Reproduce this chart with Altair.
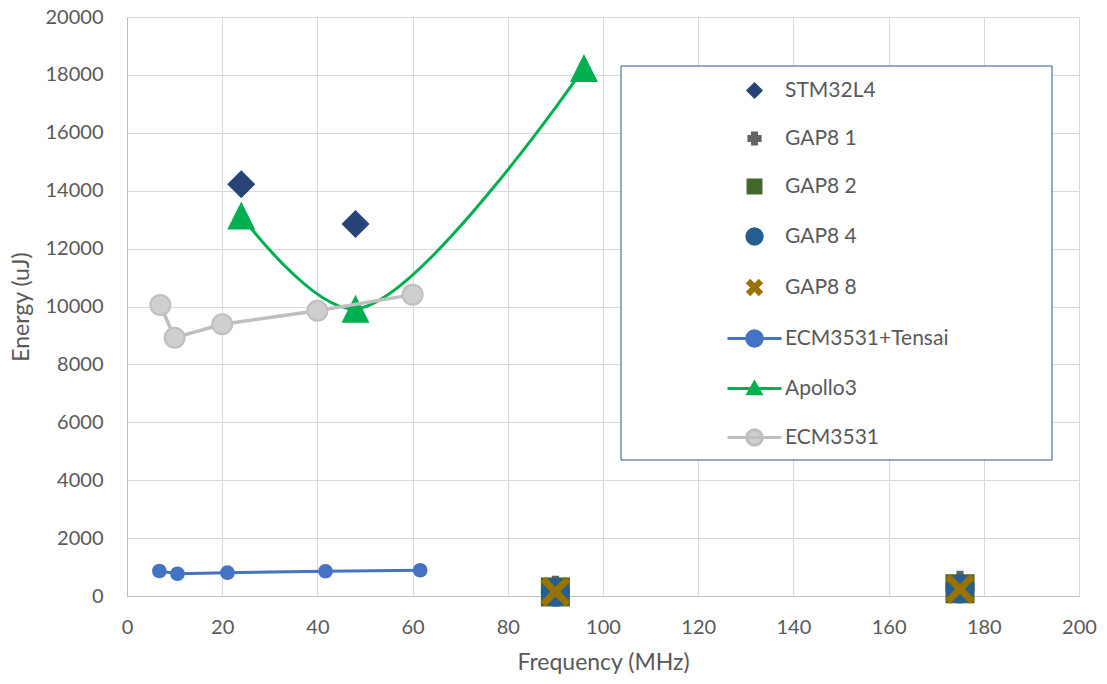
import math
import altair as alt
import pandas as pd

# ---------------- data ----------------
series = ["STM32L4", "GAP8 1", "GAP8 2", "GAP8 4", "GAP8 8",
          "ECM3531+Tensai", "Apollo3", "ECM3531"]

stm_x = [24, 48]
stm_y = [14220, 12850]

gap_x = [90, 175]
gap1_y = [200, 370]
gap2_y = [140, 250]
gap4_y = [130, 240]
gap8_y = [150, 240]

tensai_x = [6.8, 10.6, 21.1, 41.7, 61.6]
tensai_y = [865, 770, 805, 855, 890]

apollo_x = [24, 48, 96]
apollo_y = [13140, 9920, 18240]

ecm_x = [7, 10, 20, 40, 60]
ecm_y = [10050, 8920, 9385, 9855, 10410]

x_ticks = list(range(0, 201, 20))
y_ticks = list(range(0, 20001, 2000))

# ---------------- styles ----------------
FONT = "Lato"
TXT = "#595959"
GRID = "#D9D9D9"
C_STM = "#264478"
C_G1 = "#636363"
C_G2 = "#43682B"
C_G4 = "#255E91"
C_G8 = "#997300"
C_TEN = "#4472C4"
C_APO = "#00B050"
C_ECM_LINE = "#BFBFBF"
C_ECM_FILL = "#D0CECE"


def f(v):
    s = f"{v:.3f}".rstrip("0").rstrip(".")
    return "0" if s in ("-0", "") else s


def poly(pts):
    return "M" + "L".join(f"{f(x)},{f(y)}" for x, y in pts) + "Z"


def plus_pts(a, b):
    return [(-a, -b), (a, -b), (a, -a), (b, -a), (b, a), (a, a), (a, b),
            (-a, b), (-a, a), (-b, a), (-b, -a), (-a, -a)]


def plus_path(a, b):
    return poly(plus_pts(a, b))


def x_path(a, b):
    r = 1 / math.sqrt(2)
    return poly([((x - y) * r, (x + y) * r) for x, y in plus_pts(a, b)])


def circle_path(r, cx=0):
    return (f"M{f(cx - r)},0A{f(r)},{f(r)} 0 1,1 {f(cx + r)},0"
            f"A{f(r)},{f(r)} 0 1,1 {f(cx - r)},0Z")


def diamond_path(r):
    return poly([(0, -r), (r, 0), (0, r), (-r, 0)])


def square_path(h):
    return poly([(-h, -h), (h, -h), (h, h), (-h, h)])


LINE_SEG = "M-3,0L3,0"

TRI_MAIN = "M0,-1L1,1L-1,1Z"
PLUS_MAIN = plus_path(0.25, 1.0)
X_MAIN = x_path(0.233, 1.181)

legend_shapes = [
    diamond_path(0.72),
    plus_path(0.22, 0.62),
    square_path(0.72),
    circle_path(0.85),
    x_path(0.18, 0.85),
    LINE_SEG + circle_path(0.87),
    LINE_SEG + "M0,-0.67L0.72,0.57L-0.72,0.57Z",
    LINE_SEG + circle_path(0.87),
]
legend_fill = [C_STM, C_G1, C_G2, C_G4, C_G8, C_TEN, C_APO, C_ECM_FILL]
legend_stroke = [C_STM, C_G1, C_G2, C_G4, C_G8, C_TEN, C_APO, C_ECM_LINE]

# ---------------- scales ----------------
xs = alt.Scale(domain=[0, 200], nice=False, zero=False)
ys = alt.Scale(domain=[0, 20000], nice=False, zero=False)

x_axis = alt.Axis(values=x_ticks, title="Frequency (MHz)", grid=True,
                  gridColor=GRID, gridWidth=1, domainColor=C_ECM_LINE,
                  domainWidth=1, ticks=False, labelFlush=False,
                  labelFont=FONT, labelFontSize=20, labelColor=TXT,
                  labelPadding=21, titleFont=FONT, titleFontSize=23,
                  titleColor=TXT, titleFontWeight="normal", titlePadding=14)
y_axis = alt.Axis(values=y_ticks, title="Energy (uJ)", format="d",
                  grid=True, gridColor=GRID, gridWidth=1,
                  domainColor=C_ECM_LINE, domainWidth=1, ticks=False,
                  labelFlush=False, labelFont=FONT, labelFontSize=20,
                  labelColor=TXT, labelPadding=24, titleFont=FONT,
                  titleFontSize=23, titleColor=TXT, titleFontWeight="normal",
                  titlePadding=12)


def df(xv, yv):
    return pd.DataFrame({"x": xv, "y": yv})


def enc(chart):
    return chart.encode(
        x=alt.X("x:Q", scale=xs, axis=x_axis),
        y=alt.Y("y:Q", scale=ys, axis=y_axis),
    )


layers = []

# STM32L4 diamonds
layers.append(enc(alt.Chart(df(stm_x, stm_y)).mark_point(
    shape="diamond", filled=True, size=784, color=C_STM, opacity=1,
    strokeWidth=0)))

# GAP8 series
layers.append(enc(alt.Chart(df(gap_x, gap1_y)).mark_point(
    shape=PLUS_MAIN, filled=True, size=841, color=C_G1, opacity=1,
    strokeWidth=0)))
layers.append(enc(alt.Chart(df(gap_x, gap2_y)).mark_point(
    shape="square", filled=True, size=841, color=C_G2, opacity=1,
    strokeWidth=0)))
layers.append(enc(alt.Chart(df(gap_x, gap4_y)).mark_point(
    shape="circle", filled=True, size=841, color=C_G4, opacity=1,
    strokeWidth=0)))
layers.append(enc(alt.Chart(df(gap_x, gap8_y)).mark_point(
    shape=X_MAIN, filled=True, size=900, color=C_G8, opacity=1,
    strokeWidth=0)))

# ECM3531+Tensai
t = df(tensai_x, tensai_y)
layers.append(enc(alt.Chart(t).mark_line(color=C_TEN, strokeWidth=3)))
layers.append(enc(alt.Chart(t).mark_point(
    shape="circle", filled=True, size=215, color=C_TEN, opacity=1,
    strokeWidth=0)))

# Apollo3
a = df(apollo_x, apollo_y)
layers.append(enc(alt.Chart(a).mark_line(
    color=C_APO, strokeWidth=3, interpolate="catmull-rom")))
layers.append(enc(alt.Chart(a).mark_point(
    shape=TRI_MAIN, filled=True, size=784, color=C_APO, opacity=1,
    strokeWidth=0)))

# ECM3531
e = df(ecm_x, ecm_y)
layers.append(enc(alt.Chart(e).mark_line(color=C_ECM_LINE, strokeWidth=3.5)))
layers.append(enc(alt.Chart(e).mark_point(
    shape="circle", filled=True, size=400, fill=C_ECM_FILL,
    stroke=C_ECM_LINE, strokeWidth=2, opacity=1)))

# legend frame (decoration)
frame = alt.Chart(alt.Data(values=[{}])).mark_rect(
    fill="white", stroke="#2F5597", strokeWidth=1
).encode(x=alt.value(494), x2=alt.value(925), y=alt.value(49),
         y2=alt.value(443))
layers.append(frame)

# legend carrier: entries only, no position -> not drawn
leg_df = pd.DataFrame({"series": series, "x": [None] * 8, "y": [None] * 8})
legend = alt.Legend(
    title=None, orient="none", legendX=617, legendY=63, direction="vertical",
    padding=0, symbolSize=324, symbolStrokeWidth=3, symbolOpacity=1,
    labelFont=FONT, labelFontSize=21, labelColor=TXT, labelOffset=20,
    rowPadding=23, labelLimit=400)
leg_layer = enc(alt.Chart(leg_df).mark_point(
    filled=True, size=324, strokeWidth=3, opacity=1
)).encode(
    shape=alt.Shape("series:N", scale=alt.Scale(domain=series,
                                                range=legend_shapes),
                    legend=legend),
    fill=alt.Fill("series:N", scale=alt.Scale(domain=series,
                                              range=legend_fill),
                  legend=legend),
    stroke=alt.Stroke("series:N", scale=alt.Scale(domain=series,
                                                  range=legend_stroke),
                      legend=legend),
)
layers.append(leg_layer)

chart = alt.layer(*layers).properties(
    width=952, height=579,
    autosize=alt.AutoSizeParams(type="none"),
    padding={"left": 127, "top": 17, "right": 28, "bottom": 88},
    background="white",
).configure_view(stroke=None)

chart.save("out.html", embed_options={"renderer": "svg", "actions": False})
